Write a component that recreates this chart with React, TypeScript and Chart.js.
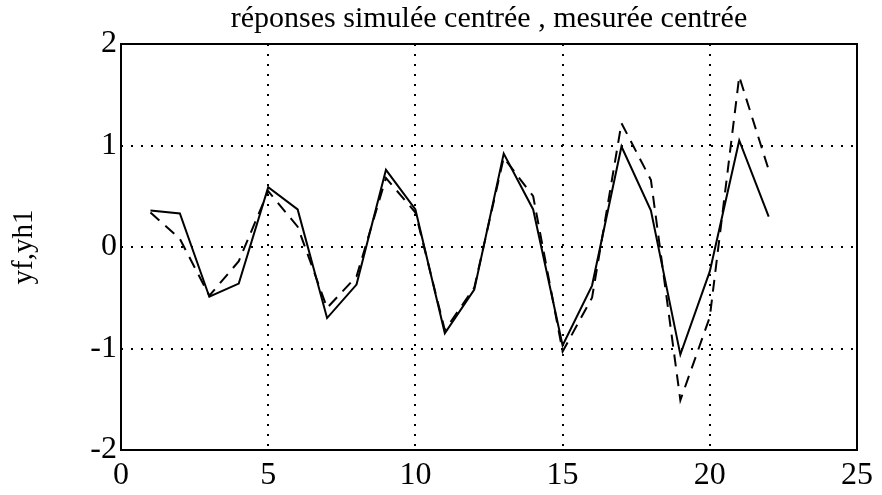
import React, { useEffect, useRef } from "react";
import { Chart, registerables } from "chart.js";

Chart.register(...registerables);

const xValues = [1, 2, 3, 4, 5, 6, 7, 8, 9, 10, 11, 12, 13, 14, 15, 16, 17, 18, 19, 20, 21, 22];
const simulated = [0.36, 0.33, -0.49, -0.36, 0.59, 0.37, -0.7, -0.37, 0.76, 0.37, -0.85, -0.42, 0.92, 0.37, -0.97, -0.38, 0.99, 0.36, -1.06, -0.24, 1.05, 0.3];
const measured = [0.34, 0.08, -0.48, -0.14, 0.55, 0.2, -0.6, -0.29, 0.68, 0.34, -0.82, -0.4, 0.88, 0.5, -1.03, -0.5, 1.22, 0.66, -1.51, -0.69, 1.68, 0.76];
const xTicks = [0, 5, 10, 15, 20, 25];
const yTicks = [-2, -1, 0, 1, 2];
const titleText = "réponses simulée centrée , mesurée centrée";
const yTitleText = "yf,yh1";

const SERIF = "'Liberation Serif', 'Times New Roman', serif";

export default function App() {
  const ref = useRef<HTMLCanvasElement | null>(null);

  useEffect(() => {
    if (!ref.current) return;
    const frame = {
      id: "frame",
      afterDatasetsDraw(chart: any) {
        const { ctx, chartArea } = chart;
        ctx.save();
        ctx.strokeStyle = "#000";
        ctx.lineWidth = 2;
        ctx.setLineDash([]);
        ctx.strokeRect(chartArea.left, chartArea.top, chartArea.right - chartArea.left, chartArea.bottom - chartArea.top);
        ctx.restore();
      },
    };
    const gridColor = (c: any) => {
      const v = c.tick ? c.tick.value : null;
      const s = c.scale;
      if (v === s.min || v === s.max) return "rgba(0,0,0,0)";
      return "#000";
    };
    const chart = new Chart(ref.current, {
      type: "line",
      data: {
        datasets: [
          {
            label: "yf",
            data: xValues.map((x, i) => ({ x, y: simulated[i] })),
            borderColor: "#000",
            borderWidth: 2,
            pointRadius: 0,
            tension: 0,
            fill: false,
          },
          {
            label: "yh1",
            data: xValues.map((x, i) => ({ x, y: measured[i] })),
            borderColor: "#000",
            borderWidth: 2,
            borderDash: [12, 8],
            pointRadius: 0,
            tension: 0,
            fill: false,
          },
        ],
      },
      options: {
        animation: false,
        responsive: false,
        layout: { padding: { left: 0, right: 25, top: 0, bottom: 0 } },
        plugins: {
          legend: { display: false },
          tooltip: { enabled: false },
          title: {
            display: true,
            text: titleText,
            fullSize: false,
            color: "#000",
            font: { family: SERIF, size: 30, weight: "normal" },
            padding: { top: 1, bottom: 7 },
          },
        },
        scales: {
          x: {
            type: "linear",
            min: 0,
            max: 25,
            afterBuildTicks: (s: any) => {
              s.ticks = xTicks.map((v) => ({ value: v }));
            },
            afterFit: (s: any) => {
              s.height = 45;
            },
            ticks: {
              color: "#000",
              font: { family: SERIF, size: 32 },
              padding: 6,
              maxRotation: 0,
              autoSkip: false,
            },
            grid: { color: gridColor, lineWidth: 2, drawTicks: false, tickLength: 0 },
            border: { display: false, dash: [2, 8] },
          },
          y: {
            type: "linear",
            min: -2,
            max: 2,
            afterBuildTicks: (s: any) => {
              s.ticks = yTicks.map((v) => ({ value: v }));
            },
            afterFit: (s: any) => {
              s.width = 121;
            },
            ticks: {
              color: "#000",
              font: { family: SERIF, size: 32 },
              padding: 4,
              autoSkip: false,
            },
            grid: { color: gridColor, lineWidth: 2, drawTicks: false, tickLength: 0 },
            border: { display: false, dash: [2, 8] },
            title: {
              display: true,
              text: yTitleText,
              color: "#000",
              font: { family: SERIF, size: 29 },
              padding: { top: 7, bottom: 0 },
            },
          },
        },
      },
      plugins: [frame],
    });
    return () => chart.destroy();
  }, []);

  return (
    <div style={{ position: "absolute", left: 0, top: 0, width: 882, height: 495, background: "#fff" }}>
      <canvas ref={ref} width={882} height={495} />
    </div>
  );
}
